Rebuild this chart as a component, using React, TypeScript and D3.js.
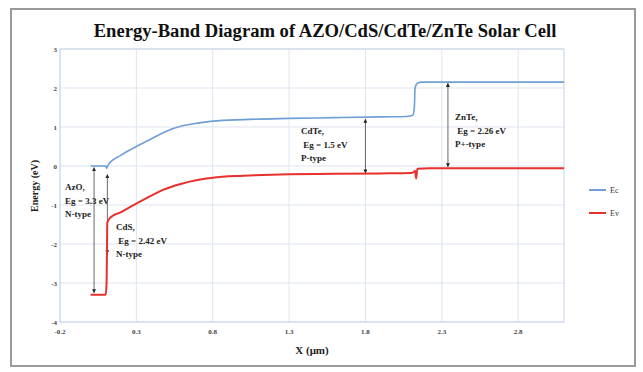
import React from "react";
import * as d3 from "d3";

const xTicks = [-0.2, 0.3, 0.8, 1.3, 1.8, 2.3, 2.8];
const xTickLabels = ["-0.2", "0.3", "0.8", "1.3", "1.8", "2.3", "2.8"];
const yTicks = [3, 2, 1, 0, -1, -2, -3, -4];

// Conduction band Ec (x in µm, energy in eV)
const ecX = [0.0, 0.1, 0.105, 0.115, 0.2, 0.3, 0.39, 0.5, 0.59, 0.7, 0.8, 1.0, 1.3, 1.6, 1.9, 2.07, 2.11, 2.12, 2.125, 2.14, 2.17, 2.5, 3.1];
const ecY = [0.0, 0.0, -0.06, 0.03, 0.28, 0.5, 0.68, 0.9, 1.02, 1.1, 1.15, 1.19, 1.22, 1.24, 1.26, 1.27, 1.3, 1.5, 2.0, 2.12, 2.15, 2.15, 2.15];

// Valence band Ev
const evX = [0.0, 0.1, 0.105, 0.11, 0.13, 0.2, 0.26, 0.37, 0.47, 0.59, 0.7, 0.8, 1.0, 1.3, 1.6, 1.9, 2.1, 2.12, 2.125, 2.132, 2.14, 2.22, 3.1];
const evY = [-3.3, -3.3, -3.0, -1.45, -1.32, -1.18, -1.05, -0.82, -0.62, -0.46, -0.36, -0.3, -0.25, -0.21, -0.2, -0.19, -0.18, -0.14, -0.12, -0.32, -0.07, -0.06, -0.06];

// band-gap arrows: x position, top energy, bottom energy
const arrowX = [0.023, 0.11, 1.8, 2.34];
const arrowTop = [-0.04, -0.22, 1.2, 2.12];
const arrowBottom = [-3.25, -2.25, -0.18, -0.02];

const labelLines = [
  ["AzO,", "Eg = 3.3 eV", "N-type"],
  ["CdS,", " Eg = 2.42 eV", "N-type"],
  ["CdTe,", " Eg = 1.5 eV", "P-type"],
  ["ZnTe,", " Eg = 2.26 eV", "P+-type"],
];
const labelPos = [
  [65, 190],
  [116, 230],
  [301, 134],
  [455, 120],
];

const seriesNames = ["Ec", "Ev"];
const seriesColors = ["#6f9fd6", "#e8302c"];

export default function App() {
  const x = d3.scaleLinear().domain([-0.2, 3.1]).range([60, 564]);
  const y = d3.scaleLinear().domain([-4, 3]).range([322, 49]);

  const ecData = ecX.map((v, i) => [v, ecY[i]] as [number, number]);
  const evData = evX.map((v, i) => [v, evY[i]] as [number, number]);
  const lineGen = d3
    .line<[number, number]>()
    .x((d) => x(d[0]))
    .y((d) => y(d[1]))
    .curve(d3.curveMonotoneX);
  const gridColor = "#dde5f0";
  const font = "'Liberation Serif', 'Times New Roman', serif";

  return (
    <svg
      width={643}
      height={372}
      style={{ position: "absolute", left: 0, top: 0, background: "#fff" }}
      fontFamily={font}
    >
      <defs>
        <marker id="ah" viewBox="0 0 10 10" refX="9" refY="5" markerWidth="5" markerHeight="5" orient="auto-start-reverse">
          <path d="M0,0 L10,5 L0,10 z" fill="#222" />
        </marker>
      </defs>
      <rect x={11} y={9} width={624} height={357} fill="#fff" stroke="#9a9a9a" strokeWidth={2} />
      <text x={325} y={37} textAnchor="middle" fontSize={18.6} fontWeight="bold" fill="#111">
        Energy-Band Diagram of AZO/CdS/CdTe/ZnTe Solar Cell
      </text>

      {/* grid */}
      {xTicks.map((t) => (
        <line key={"gx" + t} x1={x(t)} x2={x(t)} y1={y(3)} y2={y(-4)} stroke={gridColor} strokeWidth={1} />
      ))}
      {yTicks.map((t) => (
        <line key={"gy" + t} x1={x(-0.2)} x2={x(3.1)} y1={y(t)} y2={y(t)} stroke={gridColor} strokeWidth={1} />
      ))}
      <rect x={x(-0.2)} y={y(3)} width={x(3.1) - x(-0.2)} height={y(-4) - y(3)} fill="none" stroke="#c5d3e8" strokeWidth={1} />

      {/* tick labels */}
      {yTicks.map((t) => (
        <text key={"yl" + t} x={57} y={y(t) + 2.5} textAnchor="end" fontSize={7} fontWeight="bold" fill="#444">
          {t}
        </text>
      ))}
      {xTicks.map((t, i) => (
        <text key={"xl" + t} x={x(t)} y={334} textAnchor="middle" fontSize={7} fontWeight="bold" fill="#444">
          {xTickLabels[i]}
        </text>
      ))}
      <text x={312} y={354} textAnchor="middle" fontSize={11} fontWeight="bold" fill="#222">
        X (μm)
      </text>
      <text transform={`translate(38,186) rotate(-90)`} textAnchor="middle" fontSize={10} fontWeight="bold" fill="#222">
        Energy (eV)
      </text>

      {/* arrows */}
      {arrowX.map((ax, i) => (
        <line
          key={"ar" + i}
          x1={x(ax)}
          x2={x(ax)}
          y1={y(arrowTop[i])}
          y2={y(arrowBottom[i])}
          stroke="#444"
          strokeWidth={0.8}
          markerStart="url(#ah)"
          markerEnd="url(#ah)"
        />
      ))}

      {/* bands */}
      <path d={lineGen(ecData) || ""} fill="none" stroke={seriesColors[0]} strokeWidth={1.6} />
      <path d={lineGen(evData) || ""} fill="none" stroke={seriesColors[1]} strokeWidth={2} />

      {/* labels */}
      {labelLines.map((lines, i) => (
        <text key={"lab" + i} x={labelPos[i][0]} y={labelPos[i][1]} fontSize={9} fontWeight="bold" fill="#222">
          {lines.map((l, j) => (
            <tspan key={j} x={labelPos[i][0]} dy={j === 0 ? 0 : 13.5} style={{ whiteSpace: "pre" }}>
              {l}
            </tspan>
          ))}
        </text>
      ))}

      {/* legend */}
      {seriesNames.map((n, i) => (
        <g key={n} transform={`translate(589,${190 + i * 23})`}>
          <line x1={0} x2={17} y1={0} y2={0} stroke={seriesColors[i]} strokeWidth={2} />
          <text x={21} y={3} fontSize={8} fill="#333">
            {n}
          </text>
        </g>
      ))}
    </svg>
  );
}
